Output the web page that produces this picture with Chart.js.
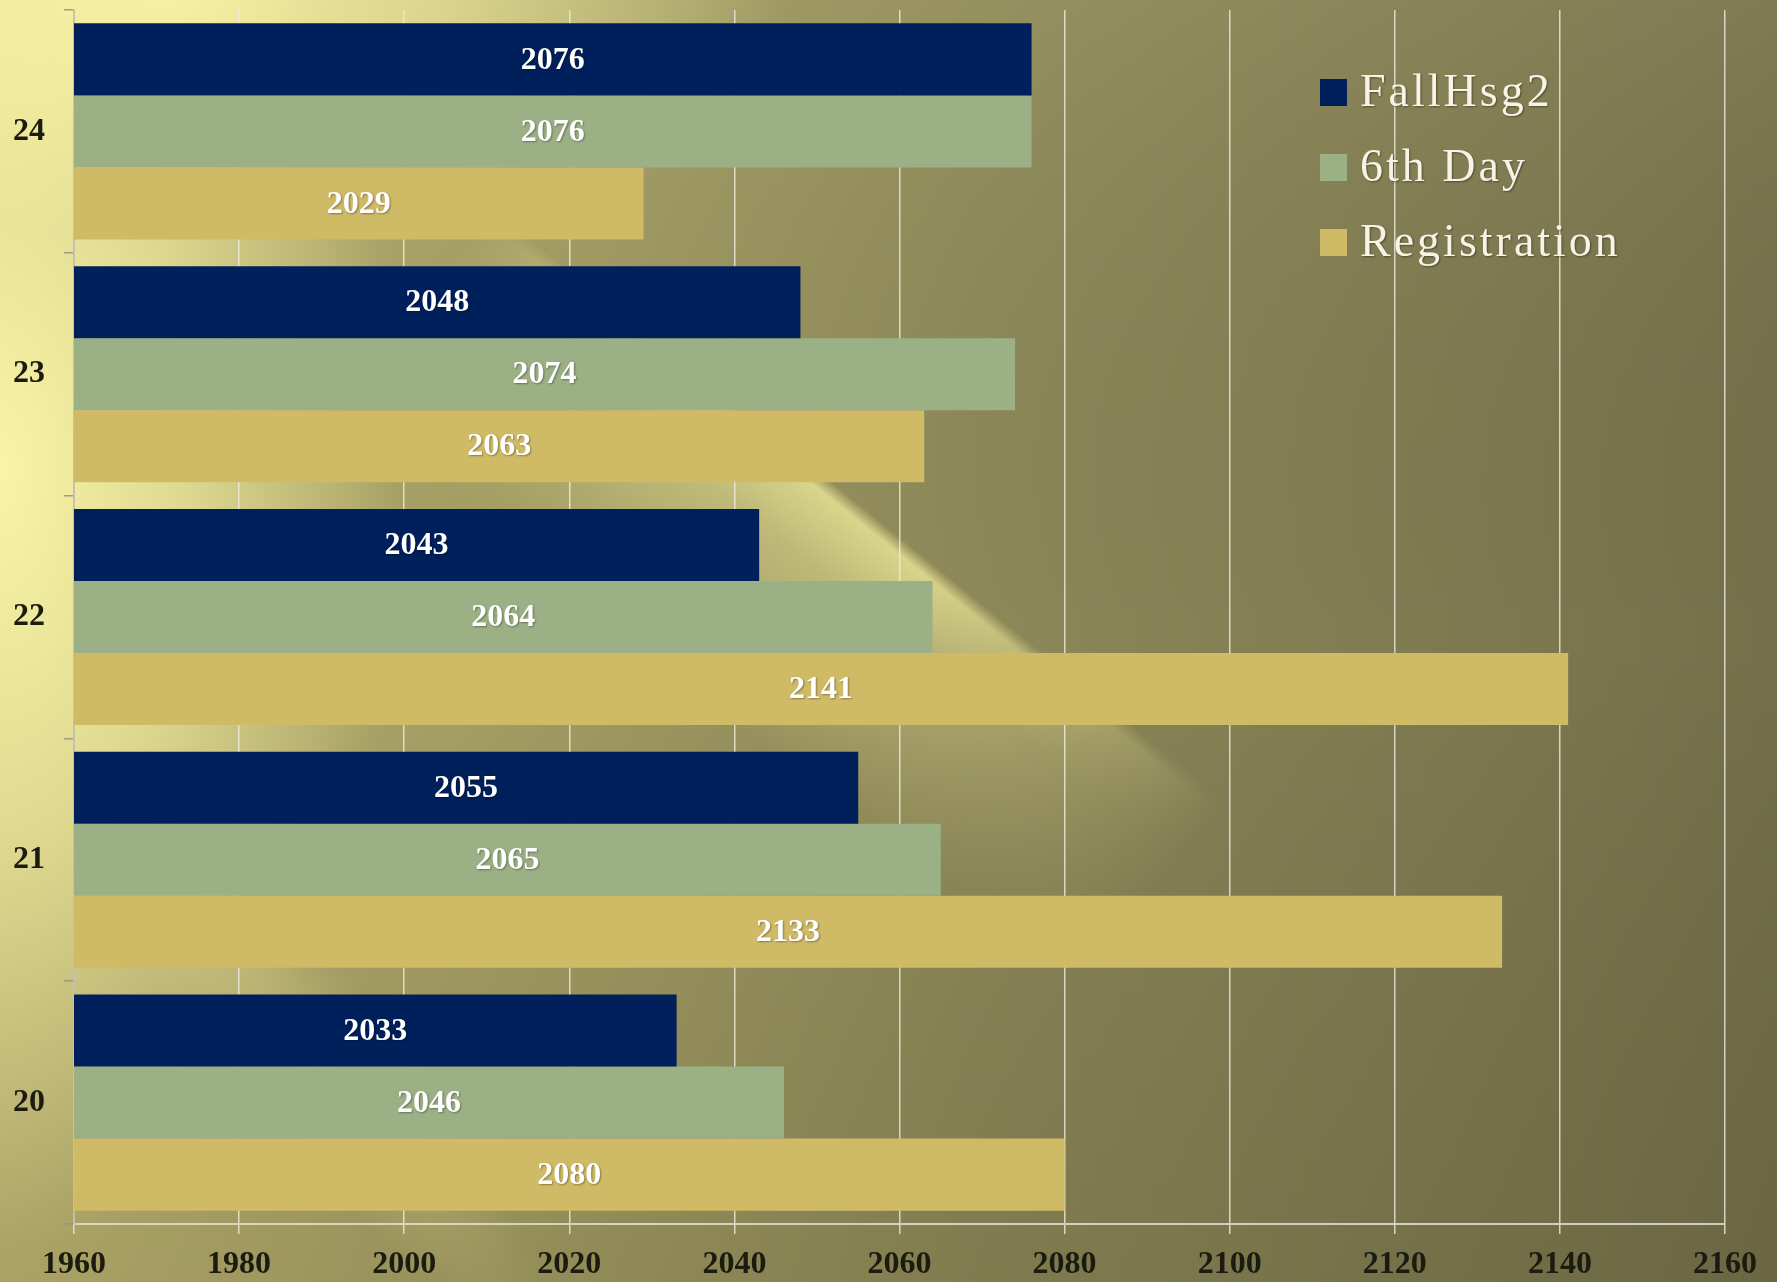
<!DOCTYPE html>
<html>
<head>
<meta charset="utf-8">
<title>FallHsg2 / 6th Day / Registration</title>
<script src="https://cdn.jsdelivr.net/npm/chart.js@4.4.1/dist/chart.umd.min.js"></script>
<style>
    html, body { margin: 0; padding: 0; background: #8c8757; }
    #wrap { width: 1777px; height: 1282px; position: relative; }
</style>
</head>
<body>
<div id="wrap"><canvas id="hsgChart"></canvas></div>
<script>
// ข้อมูลของกราฟ (อ่านจากภาพ)
const years = ['24', '23', '22', '21', '20'];
const fallHsg2 = [2076, 2048, 2043, 2055, 2033];
const sixthDay = [2076, 2074, 2064, 2065, 2046];
const registration = [2029, 2063, 2141, 2133, 2080];

const axisMin = 1960;
const axisMax = 2160;
const axisStep = 20;

const FONT = "'Liberation Serif', 'DejaVu Serif', serif";

// วงรีแสงเรือง
function glow(ctx, cx, cy, rx, ry, angle, rgb, a) {
    ctx.save();
    ctx.translate(cx, cy);
    ctx.rotate(angle);
    ctx.scale(1, ry / rx);
    const gr = ctx.createRadialGradient(0, 0, 0, 0, 0, rx);
    gr.addColorStop(0, `rgba(${rgb},${a})`);
    gr.addColorStop(0.45, `rgba(${rgb},${a * 0.65})`);
    gr.addColorStop(1, `rgba(${rgb},0)`);
    ctx.fillStyle = gr;
    ctx.fillRect(-rx, -rx, rx * 2, rx * 2);
    ctx.restore();
}

// ลำแสงเฉียง ขอบบนค่อนข้างคม ด้านล่างจางลง
function beam(ctx, w, h, x0, y0, angleDeg, len, width, rgb, a) {
    const off = document.createElement('canvas');
    off.width = w;
    off.height = h;
    const o = off.getContext('2d');
    o.translate(x0, y0);
    o.rotate(angleDeg * Math.PI / 180);
    const soft = 14;
    let g = o.createLinearGradient(0, -soft, 0, width);
    const s = soft / (width + soft);
    g.addColorStop(0, `rgba(${rgb},0)`);
    g.addColorStop(s, `rgba(${rgb},${a})`);
    g.addColorStop(s + 0.25, `rgba(${rgb},${a * 0.6})`);
    g.addColorStop(1, `rgba(${rgb},0)`);
    o.fillStyle = g;
    o.fillRect(0, -soft, len, width + soft);
    o.globalCompositeOperation = 'destination-in';
    g = o.createLinearGradient(0, 0, len, 0);
    g.addColorStop(0, 'rgba(0,0,0,0)');
    g.addColorStop(0.3, 'rgba(0,0,0,1)');
    g.addColorStop(0.6, 'rgba(0,0,0,1)');
    g.addColorStop(1, 'rgba(0,0,0,0)');
    o.fillStyle = g;
    o.fillRect(0, -soft, len, width + soft);
    ctx.drawImage(off, 0, 0);
}

const backgroundPlugin = {
    id: 'slideBackground',
    beforeDraw(chart) {
        const ctx = chart.ctx;
        const w = chart.width, h = chart.height;
        ctx.save();
        let g = ctx.createLinearGradient(0, 0, w, 0);
        g.addColorStop(0, '#bdb472');
        g.addColorStop(0.3, '#a29c63');
        g.addColorStop(0.55, '#8d8858');
        g.addColorStop(1, '#74704b');
        ctx.fillStyle = g;
        ctx.fillRect(0, 0, w, h);

        g = ctx.createLinearGradient(0, 0, 0, h);
        g.addColorStop(0, 'rgba(255,250,180,0.08)');
        g.addColorStop(0.5, 'rgba(0,0,0,0)');
        g.addColorStop(1, 'rgba(40,35,10,0.12)');
        ctx.fillStyle = g;
        ctx.fillRect(0, 0, w, h);

        glow(ctx, 0, 470, 400, 780, 0, '252,247,168', 0.95);
        glow(ctx, 170, 0, 620, 240, 0, '252,247,168', 0.85);
        beam(ctx, w, h, 480, 215, 39, 950, 240, '236,231,152', 0.8);
        glow(ctx, 300, 1040, 360, 80, 50 * Math.PI / 180, '215,209,140', 0.35);
        ctx.restore();
    }
};

// ตัวเลขกลางแท่ง + คำอธิบายสัญลักษณ์มุมขวาบน
const overlayPlugin = {
    id: 'overlayText',
    afterDraw(chart) {
        const ctx = chart.ctx;
        const xScale = chart.scales.x;
        ctx.save();
        ctx.font = 'bold 32px ' + FONT;
        ctx.fillStyle = '#ffffff';
        ctx.textAlign = 'center';
        ctx.textBaseline = 'middle';
        ctx.shadowColor = 'rgba(0,0,0,0.35)';
        ctx.shadowBlur = 2;
        ctx.shadowOffsetX = 1;
        ctx.shadowOffsetY = 1;
        chart.data.datasets.forEach((ds, i) => {
            const meta = chart.getDatasetMeta(i);
            ds.data.forEach((v, j) => {
                const el = meta.data[j];
                const x0 = xScale.getPixelForValue(axisMin);
                const x1 = xScale.getPixelForValue(v);
                ctx.fillText(String(v), (x0 + x1) / 2, el.y + 1);
            });
        });

        ctx.font = '46px ' + FONT;
        ctx.textAlign = 'left';
        if ('letterSpacing' in ctx) ctx.letterSpacing = '3px';
        chart.data.datasets.forEach((ds, i) => {
            const y = 92 + i * 75;
            ctx.shadowColor = 'rgba(0,0,0,0)';
            ctx.fillStyle = ds.backgroundColor;
            ctx.fillRect(1320, y - 13, 27, 27);
            ctx.shadowColor = 'rgba(0,0,0,0.4)';
            ctx.fillStyle = '#f7f4e6';
            ctx.fillText(ds.label, 1360, y + 2);
        });
        ctx.restore();
    }
};

new Chart(document.getElementById('hsgChart'), {
    type: 'bar',
    data: {
        labels: years,
        datasets: [
            { label: 'FallHsg2', data: fallHsg2, backgroundColor: '#00205c' },
            { label: '6th Day', data: sixthDay, backgroundColor: '#9cb085' },
            { label: 'Registration', data: registration, backgroundColor: '#cfba66' }
        ]
    },
    options: {
        indexAxis: 'y',
        responsive: true,
        maintainAspectRatio: false,
        animation: false,
        categoryPercentage: 0.89,
        barPercentage: 1.0,
        layout: { padding: { top: 10, right: 52, left: 0, bottom: 0 } },
        plugins: {
            legend: { display: false },
            tooltip: { enabled: false }
        },
        scales: {
            x: {
                min: axisMin,
                max: axisMax,
                afterFit: (scale) => { scale.height = 58; },
                ticks: {
                    stepSize: axisStep,
                    padding: 12,
                    color: '#1c1b10',
                    font: { family: FONT, size: 32, weight: 'bold' },
                    callback: (v) => String(v)
                },
                grid: {
                    color: 'rgba(238,238,224,0.8)',
                    lineWidth: 1.5,
                    tickLength: 10
                },
                border: { color: 'rgba(225,225,210,0.85)', width: 2 }
            },
            y: {
                afterFit: (scale) => {
                    scale.width = 74;
                    scale.paddingTop = 0;
                    scale.paddingBottom = 0;
                },
                ticks: {
                    padding: 19,
                    color: '#1c1b10',
                    font: { family: FONT, size: 32, weight: 'bold' }
                },
                grid: {
                    drawOnChartArea: false,
                    color: 'rgba(150,150,130,0.9)',
                    tickLength: 10,
                    lineWidth: 1.5
                },
                border: { color: 'rgba(190,190,175,0.9)', width: 2 }
            }
        }
    },
    plugins: [backgroundPlugin, overlayPlugin]
});
</script>
</body>
</html>
